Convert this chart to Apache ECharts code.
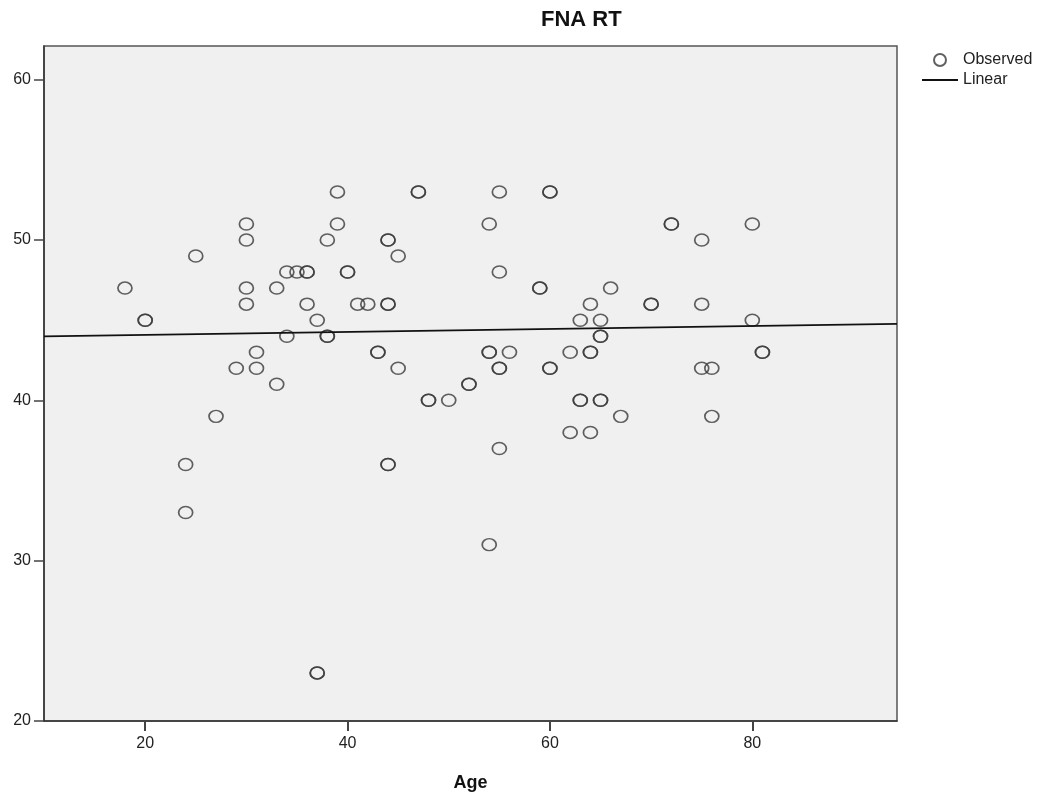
<!DOCTYPE html>
<html>
<head>
<meta charset="utf-8">
<title>FNA RT</title>
<script src="https://cdn.jsdelivr.net/npm/echarts@6/dist/echarts.min.js"></script>
<style>
  html, body { margin: 0; padding: 0; background: #fff; }
  #chart { width: 1060px; height: 800px; }
</style>
</head>
<body>
<div id="chart"></div>
<script>
'use strict';

// observed points (age, FNA RT) - repeated pairs are the darker circles
var ages = [18, 20, 20, 24, 24, 25, 27, 29, 30, 30, 30, 30, 31, 31, 33, 33, 34, 34, 35, 36, 36, 36,
  37, 37, 37, 38, 38, 38, 39, 39, 40, 40, 41, 42, 43, 43, 44, 44, 44, 44, 44, 44, 45, 45,
  47, 47, 48, 48, 50, 52, 52, 54, 54, 54, 54, 55, 55, 55, 55, 55, 56, 59, 59, 60, 60, 60, 60,
  62, 62, 63, 63, 63, 64, 64, 64, 64, 65, 65, 65, 65, 65, 66, 67, 70, 70, 72, 72,
  75, 75, 75, 76, 76, 80, 80, 81, 81];
var fnaRt = [47, 45, 45, 36, 33, 49, 39, 42, 51, 50, 47, 46, 43, 42, 47, 41, 48, 44, 48, 48, 48, 46,
  45, 23, 23, 50, 44, 44, 53, 51, 48, 48, 46, 46, 43, 43, 50, 50, 46, 46, 36, 36, 49, 42,
  53, 53, 40, 40, 40, 41, 41, 51, 43, 43, 31, 53, 48, 42, 42, 37, 43, 47, 47, 53, 53, 42, 42,
  43, 38, 45, 40, 40, 46, 43, 43, 38, 45, 44, 44, 40, 40, 47, 39, 46, 46, 51, 51,
  50, 46, 42, 42, 39, 51, 45, 43, 43];

// linear fit as printed on the chart
var fitIntercept = 43.9;
var fitSlope = 0.0092;

var xTicks = [20, 40, 60, 80];
var yTicks = [20, 30, 40, 50, 60];
var xRange = [10, 94.3];
var yRange = [20, 62.1];

var observed = [];
for (var i = 0; i < ages.length; i++) {
  observed.push([ages[i], fnaRt[i]]);
}
var fitLine = xRange.map(function (x) {
  return [x, fitIntercept + fitSlope * x];
});

var font = 'Liberation Sans, Arial, sans-serif';
var chart = echarts.init(document.getElementById('chart'));

chart.setOption({
  backgroundColor: '#ffffff',
  animation: false,
  textStyle: { fontFamily: font },
  title: {
    text: 'FNA RT',
    left: 541,
    top: 9,
    padding: 0,
    textStyle: { fontFamily: font, fontSize: 22, fontWeight: 'bold', color: '#111' }
  },
  legend: {
    orient: 'vertical',
    left: 921,
    top: 52,
    padding: 0,
    itemWidth: 36,
    itemHeight: 12,
    itemGap: 4,
    textStyle: { fontFamily: font, fontSize: 16, color: '#222' },
    data: [
      'Observed',
      // line only, no marker in the key
      { name: 'Linear', itemStyle: { opacity: 0 } }
    ]
  },
  grid: {
    left: 44,
    top: 46,
    right: 163,
    bottom: 79,
    show: true,
    backgroundColor: '#f0f0f0',
    borderColor: '#555',
    borderWidth: 1.5
  },
  xAxis: {
    type: 'value',
    min: xRange[0],
    max: xRange[1],
    name: 'Age',
    nameLocation: 'middle',
    nameGap: 53,
    nameTextStyle: { fontFamily: font, fontSize: 18, fontWeight: 'bold', color: '#111' },
    axisLine: { show: true, onZero: false, lineStyle: { color: '#333', width: 1.5 } },
    axisTick: { show: true, length: 10, customValues: xTicks, lineStyle: { color: '#444', width: 2 } },
    axisLabel: { customValues: xTicks, margin: 15, fontSize: 16, color: '#222', fontFamily: font },
    splitLine: { show: false }
  },
  yAxis: {
    type: 'value',
    min: yRange[0],
    max: yRange[1],
    axisLine: { show: true, onZero: false, lineStyle: { color: '#333', width: 1.5 } },
    axisTick: { show: true, length: 10, customValues: yTicks, lineStyle: { color: '#444', width: 1.5 } },
    axisLabel: { customValues: yTicks, margin: 13, fontSize: 16, color: '#222', fontFamily: font },
    splitLine: { show: false }
  },
  series: [
    {
      name: 'Observed',
      type: 'scatter',
      symbol: 'circle',
      symbolSize: [14, 12],
      itemStyle: { color: 'transparent', borderColor: '#3a3a3a', borderWidth: 1.6 },
      data: observed
    },
    {
      name: 'Linear',
      type: 'line',
      symbol: 'none',
      itemStyle: { color: '#111' },
      lineStyle: { color: '#111', width: 1.6 },
      data: fitLine
    }
  ]
});
</script>
</body>
</html>
